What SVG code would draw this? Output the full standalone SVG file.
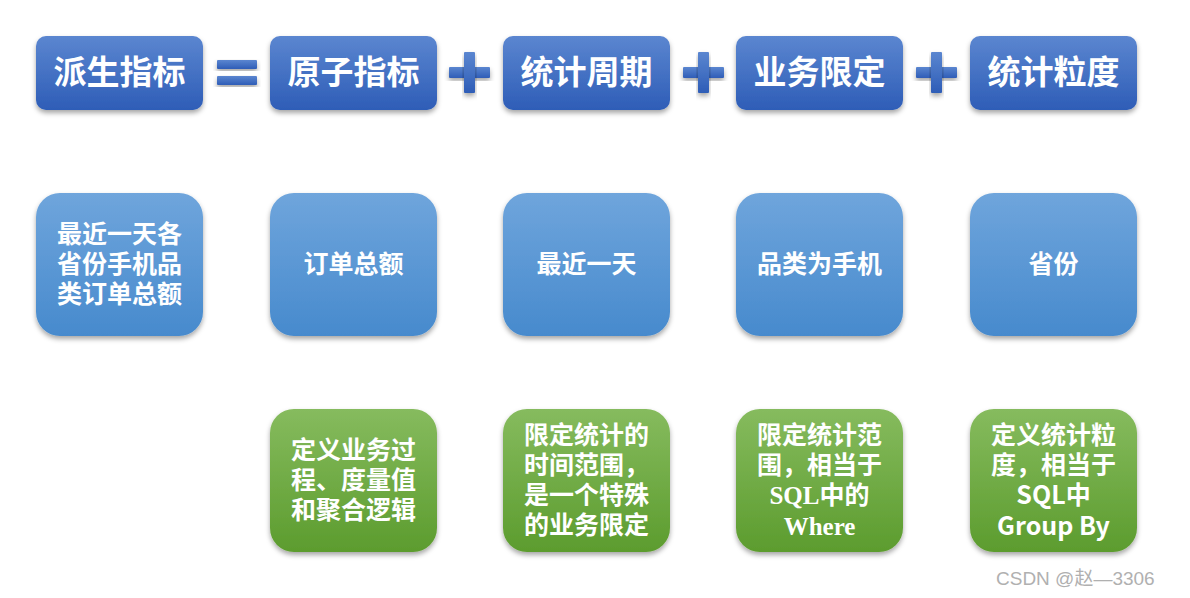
<svg xmlns="http://www.w3.org/2000/svg" width="1190" height="598" viewBox="0 0 1190 598">
<defs>
<linearGradient id="gTop" x1="0" y1="0" x2="0" y2="1"><stop offset="0" stop-color="#5b86d0"/><stop offset="1" stop-color="#2e5db7"/></linearGradient>
<linearGradient id="gMid" x1="0" y1="0" x2="0" y2="1"><stop offset="0" stop-color="#6fa5dc"/><stop offset="1" stop-color="#478acd"/></linearGradient>
<linearGradient id="gBot" x1="0" y1="0" x2="0" y2="1"><stop offset="0" stop-color="#86bb5e"/><stop offset="1" stop-color="#5c9c2e"/></linearGradient>
<filter id="sh" x="-10%" y="-10%" width="120%" height="130%"><feDropShadow dx="0" dy="3" stdDeviation="2.5" flood-color="#000" flood-opacity="0.35"/></filter>
</defs>
<style>
.top{fill:url(#gTop);filter:url(#sh)}
.mid{fill:url(#gMid);filter:url(#sh)}
.bot{fill:url(#gBot);filter:url(#sh)}
.op{fill:url(#gTop);filter:url(#sh)}
.tt{font-family:"Noto Sans CJK SC","Noto Sans",sans-serif;font-size:33px;font-weight:bold;fill:#fff;text-anchor:middle}
.t{font-family:"Noto Sans CJK SC","Liberation Serif",sans-serif;font-size:25px;font-weight:bold;fill:#fff;text-anchor:middle}
.ser{font-family:"Liberation Serif","Noto Sans CJK SC",serif}
.wm{font-family:"Liberation Sans","Noto Sans CJK SC",sans-serif;font-size:19px;fill:#b0b0b0}
</style>
<g id="operators">
<rect class="op" x="217" y="60" width="40" height="9" rx="1"/>
<rect class="op" x="217" y="76" width="40" height="9" rx="1"/>
<g id="plus1"><rect class="op" x="449" y="67" width="41" height="11" rx="1"/><rect class="op" x="464" y="52" width="11" height="41" rx="1"/></g>
<g id="plus2"><rect class="op" x="683" y="67" width="41" height="11" rx="1"/><rect class="op" x="698" y="52" width="11" height="41" rx="1"/></g>
<g id="plus3"><rect class="op" x="916" y="67" width="41" height="11" rx="1"/><rect class="op" x="931" y="52" width="11" height="41" rx="1"/></g>
</g>
<g id="connectors"/>
<g id="n-derived"><rect class="top" x="36" y="36" width="167" height="74" rx="10"/><text class="tt" x="119.5" y="84">派生指标</text></g>
<g id="n-atomic"><rect class="top" x="270" y="36" width="167" height="74" rx="10"/><text class="tt" x="353.5" y="84">原子指标</text></g>
<g id="n-period"><rect class="top" x="503" y="36" width="167" height="74" rx="10"/><text class="tt" x="586.5" y="84">统计周期</text></g>
<g id="n-limit"><rect class="top" x="736" y="36" width="167" height="74" rx="10"/><text class="tt" x="819.5" y="84">业务限定</text></g>
<g id="n-grain"><rect class="top" x="970" y="36" width="167" height="74" rx="10"/><text class="tt" x="1053.5" y="84">统计粒度</text></g>

<g id="m-derived"><rect class="mid" x="36" y="193" width="167" height="143" rx="24"/><text class="t"><tspan x="119.5" y="243">最近一天各</tspan><tspan x="119.5" y="273">省份手机品</tspan><tspan x="119.5" y="303">类订单总额</tspan></text></g>
<g id="m-atomic"><rect class="mid" x="270" y="193" width="167" height="143" rx="24"/><text class="t" x="353.5" y="273">订单总额</text></g>
<g id="m-period"><rect class="mid" x="503" y="193" width="167" height="143" rx="24"/><text class="t" x="586.5" y="273">最近一天</text></g>
<g id="m-limit"><rect class="mid" x="736" y="193" width="167" height="143" rx="24"/><text class="t" x="819.5" y="273">品类为手机</text></g>
<g id="m-grain"><rect class="mid" x="970" y="193" width="167" height="143" rx="24"/><text class="t" x="1053.5" y="273">省份</text></g>

<g id="b-atomic"><rect class="bot" x="270" y="409" width="167" height="143" rx="24"/><text class="t"><tspan x="353.5" y="459">定义业务过</tspan><tspan x="353.5" y="489">程、度量值</tspan><tspan x="353.5" y="519">和聚合逻辑</tspan></text></g>
<g id="b-period"><rect class="bot" x="503" y="409" width="167" height="143" rx="24"/><text class="t"><tspan x="586.5" y="444">限定统计的</tspan><tspan x="586.5" y="474">时间范围，</tspan><tspan x="586.5" y="504">是一个特殊</tspan><tspan x="586.5" y="534">的业务限定</tspan></text></g>
<g id="b-limit"><rect class="bot" x="736" y="409" width="167" height="143" rx="24"/><text class="t"><tspan x="819.5" y="444">限定统计范</tspan><tspan x="819.5" y="474">围，相当于</tspan><tspan x="819.5" y="504"><tspan class="ser">SQL</tspan>中的</tspan><tspan class="ser" x="819.5" y="535">Where</tspan></text></g>
<g id="b-grain"><rect class="bot" x="970" y="409" width="167" height="143" rx="24"/><text class="t"><tspan x="1053.5" y="444">定义统计粒</tspan><tspan x="1053.5" y="474">度，相当于</tspan><tspan x="1053.5" y="504">SQL中</tspan><tspan x="1053.5" y="535">Group By</tspan></text></g>

<text class="wm" x="996" y="585">CSDN @赵—3306</text>
</svg>
